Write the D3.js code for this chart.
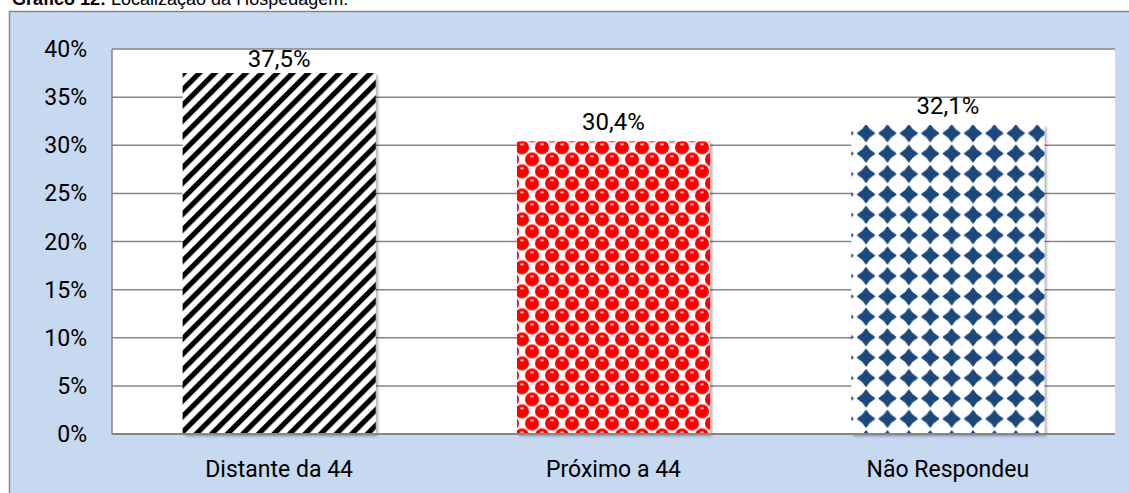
<!DOCTYPE html>
<html>
  <head>
    <meta http-equiv="Content-Type" content="text/html; charset=UTF-8" />
    <title>Localização da Hospedagem</title>
    <style>
      body { margin: 0; background: #fff; }
      svg text { font-family: Roboto, "Liberation Sans", sans-serif; fill: #000; }
    </style>
  </head>
  <body>
    <div id="chart"></div>
    <script src="https://cdnjs.cloudflare.com/ajax/libs/d3/7.8.5/d3.min.js"></script>
    <script>
const categories = ['Distante da 44', 'Próximo a 44', 'Não Respondeu'],
      values = [0.375, 0.304, 0.321],
      valueLabels = ['37,5%', '30,4%', '32,1%'],
      yTicks = [0, 0.05, 0.10, 0.15, 0.20, 0.25, 0.30, 0.35, 0.40],
      yTickLabels = ['0%', '5%', '10%', '15%', '20%', '25%', '30%', '35%', '40%'],
      fills = ['url(#stripes)', 'url(#dots)', 'url(#diamonds)'];

const width = 1129, height = 493,
      plot = {left: 112, right: 1115, top: 49, bottom: 434};

const svg = d3.select('#chart').append('svg')
  .attr('width', width)
  .attr('height', height);

const x = d3.scaleBand()
  .domain(categories)
  .range([plot.left, plot.right])
  .paddingInner(0.4227)
  .paddingOuter(0.2113);

const y = d3.scaleLinear()
  .domain([0, 0.4])
  .range([plot.bottom, plot.top]);

// patterns
const defs = svg.append('defs');

const shadow = defs.append('filter').attr('id', 'shadow')
  .attr('x', '-5%').attr('y', '-5%').attr('width', '115%').attr('height', '115%');
shadow.append('feDropShadow')
  .attr('dx', 2).attr('dy', 2).attr('stdDeviation', 1.6)
  .attr('flood-color', '#000').attr('flood-opacity', 0.35);

const stripes = defs.append('pattern').attr('id', 'stripes')
  .attr('patternUnits', 'userSpaceOnUse')
  .attr('width', 11).attr('height', 11)
  .attr('patternTransform', 'rotate(45)');
stripes.append('rect').attr('width', 11).attr('height', 11).attr('fill', '#fff');
stripes.append('rect').attr('x', 3).attr('width', 5.2).attr('height', 11).attr('fill', '#000');

const dots = defs.append('pattern').attr('id', 'dots')
  .attr('patternUnits', 'userSpaceOnUse')
  .attr('x', x(categories[1]))
  .attr('y', y(values[1]))
  .attr('width', 20).attr('height', 24);
dots.append('rect').attr('width', 20).attr('height', 24).attr('fill', '#fff');
[[5, 6], [15, 18], [-5, 18], [25, 6], [5, 30], [15, -6]].forEach(([cx, cy]) => {
  dots.append('circle').attr('cx', cx).attr('cy', cy).attr('r', 7).attr('fill', '#ff0000');
  dots.append('ellipse').attr('cx', cx).attr('cy', cy - 3).attr('rx', 2.2).attr('ry', 1)
    .attr('fill', '#ffb4b4');
});

const diamonds = defs.append('pattern').attr('id', 'diamonds')
  .attr('patternUnits', 'userSpaceOnUse')
  .attr('x', x(categories[2]) + 4)
  .attr('y', y(values[2]) - 2)
  .attr('width', 21.4).attr('height', 20.4);
diamonds.append('rect').attr('width', 21.4).attr('height', 20.4).attr('fill', '#fff');
diamonds.append('path')
  .attr('d', 'M10.7,2 Q13.6,7.3 19,10.2 Q13.6,13.1 10.7,18.4 Q7.8,13.1 2.4,10.2 Q7.8,7.3 10.7,2 Z')
  .attr('fill', '#1f497d')
  .attr('stroke', '#1f497d').attr('stroke-width', 1.4).attr('stroke-linejoin', 'round');

// outer frame
svg.append('rect')
  .attr('x', 9.5).attr('y', 11.5)
  .attr('width', width).attr('height', height)
  .attr('fill', '#c6d9f1')
  .attr('stroke', '#868686').attr('stroke-width', 1.5);

// title (cut at the top edge, as in the source)
const title = svg.append('text')
  .attr('x', 12).attr('y', 5)
  .style('font-family', '"Liberation Sans", Arial, sans-serif')
  .style('font-size', '18px');
title.append('tspan').style('font-weight', 'bold').text('Gráfico 12:');
title.append('tspan').text(' Localização da Hospedagem:');

// plot area
svg.append('rect')
  .attr('x', plot.left).attr('y', plot.top)
  .attr('width', plot.right - plot.left).attr('height', plot.bottom - plot.top)
  .attr('fill', '#fff');

svg.append('g').selectAll('line')
  .data(yTicks.slice(1))
  .enter()
  .append('line')
    .attr('x1', plot.left).attr('x2', plot.right)
    .attr('y1', d => y(d)).attr('y2', d => y(d))
    .attr('stroke', '#868686').attr('stroke-width', 1.5);

svg.append('line')
  .attr('x1', plot.left).attr('x2', plot.left)
  .attr('y1', plot.top).attr('y2', plot.bottom)
  .attr('stroke', '#868686').attr('stroke-width', 1.5);

// bars
svg.append('g').selectAll('rect')
  .data(values)
  .enter()
  .append('rect')
    .attr('x', (d, i) => x(categories[i]))
    .attr('y', d => y(d))
    .attr('width', x.bandwidth())
    .attr('height', d => y(0) - y(d))
    .attr('fill', (d, i) => fills[i])
    .attr('filter', 'url(#shadow)');

svg.append('line')
  .attr('x1', plot.left).attr('x2', plot.right)
  .attr('y1', plot.bottom).attr('y2', plot.bottom)
  .attr('stroke', '#868686').attr('stroke-width', 2);

// y tick labels
svg.append('g').selectAll('text')
  .data(yTicks)
  .enter()
  .append('text')
    .attr('x', plot.left - 25)
    .attr('y', d => y(d) + 8)
    .attr('text-anchor', 'end')
    .style('font-size', '23px')
    .text((d, i) => yTickLabels[i]);

// category labels
svg.append('g').selectAll('text')
  .data(categories)
  .enter()
  .append('text')
    .attr('x', d => x(d) + x.bandwidth() / 2)
    .attr('y', 477)
    .attr('text-anchor', 'middle')
    .style('font-size', '23px')
    .text(d => d);

// value labels (kept inside the plot area like Excel does)
svg.append('g').selectAll('text')
  .data(values)
  .enter()
  .append('text')
    .attr('x', (d, i) => x(categories[i]) + x.bandwidth() / 2)
    .attr('y', d => Math.max(y(d) - 11, plot.top + 18))
    .attr('text-anchor', 'middle')
    .style('font-size', '24px')
    .text((d, i) => valueLabels[i]);
    </script>
  </body>
</html>
